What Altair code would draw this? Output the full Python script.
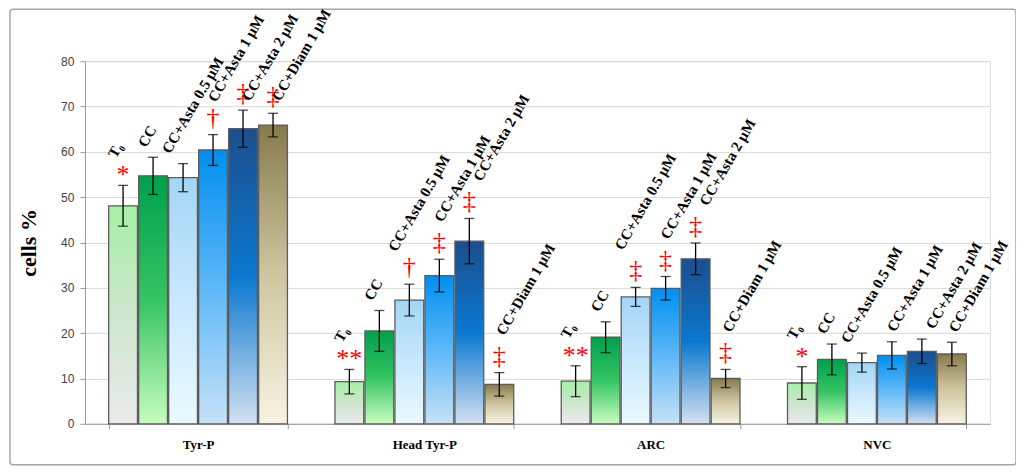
import altair as alt
import pandas as pd

groups = ["Tyr-P", "Head Tyr-P", "ARC", "NVC"]
treatments = ["T₀", "CC", "CC+Asta 0.5 μM", "CC+Asta 1 μM", "CC+Asta 2 μM", "CC+Diam 1 μM"]

tyrp_mean = [48.1, 54.7, 54.3, 60.4, 65.1, 65.9]
tyrp_err = [4.5, 4.1, 3.1, 3.4, 4.1, 2.6]
tyrp_sig = ["*", "", "", "†", "‡", "‡"]

head_mean = [9.3, 20.5, 27.3, 32.7, 40.3, 8.7]
head_err = [2.7, 4.5, 3.5, 3.6, 5.0, 2.6]
head_sig = ["**", "", "†", "‡", "‡", "‡"]

arc_mean = [9.4, 19.1, 28.0, 29.9, 36.4, 10.0]
arc_err = [3.4, 3.4, 2.1, 2.6, 3.5, 2.0]
arc_sig = ["**", "", "‡", "‡", "‡", "‡"]

nvc_mean = [9.0, 14.2, 13.5, 15.1, 16.0, 15.4]
nvc_err = [3.6, 3.4, 2.1, 3.0, 2.7, 2.6]
nvc_sig = ["*", "", "", "", "", ""]

means = [tyrp_mean, head_mean, arc_mean, nvc_mean]
errs = [tyrp_err, head_err, arc_err, nvc_err]
sigs = [tyrp_sig, head_sig, arc_sig, nvc_sig]

# label placement style: gap above the error bar (axis units) by mark,
# horizontal nudge (px) by treatment
gap = {"": 2.0, "*": 5.8, "**": 5.8, "†": 7.0, "‡": 8.0}
nudge = {"T₀": -7, "CC": -7, "CC+Asta 0.5 μM": -13, "CC+Asta 1 μM": 3,
         "CC+Asta 2 μM": 12, "CC+Diam 1 μM": 5}
CLAMP = 71.0

rows = []
for g, m, e, s in zip(groups, means, errs, sigs):
    for t, mv, ev, sv in zip(treatments, m, e, s):
        hi = mv + ev
        ly = hi + gap[sv]
        shifted = ly > CLAMP
        rows.append(dict(group=g, treatment=t, mean=mv, lo=mv - ev, hi=hi,
                         sig=sv, label_y=min(ly, CLAMP),
                         sx=7 if shifted else nudge[t]))
df = pd.DataFrame(rows)

grad_stops = {
    "T₀": ["#a6f0a6", "#cde6cd", "#ebebeb"],
    "CC": ["#00a04c", "#35c463", "#c8fdc0"],
    "CC+Asta 0.5 μM": ["#a3d6f5", "#c8e8fd", "#eafaff"],
    "CC+Asta 1 μM": ["#008ff0", "#5db8f8", "#c6e2f7"],
    "CC+Asta 2 μM": ["#1c4e8c", "#0a78d0", "#d3e1f1"],
    "CC+Diam 1 μM": ["#877a4e", "#cfc6a0", "#f6f3e2"],
}

W, H = 906, 363

x_enc = alt.X("group:N", sort=groups, title=None,
              scale=alt.Scale(domain=groups, paddingInner=0.21, paddingOuter=0.105),
              axis=alt.Axis(labelAngle=0, labelFont="Liberation Serif", labelFontWeight="bold",
                            labelFontSize=13, labelColor="#000000", labelPadding=10,
                            tickBand="extent", tickSize=5, tickColor="#9a9a9a",
                            domainColor="#9a9a9a", grid=False))
xo_enc = alt.XOffset("treatment:N", sort=treatments,
                     scale=alt.Scale(domain=treatments, paddingInner=0.04, paddingOuter=0.0))
y_scale = alt.Scale(domain=[0, 80])

base = alt.Chart(df)

frame = alt.Chart(pd.DataFrame({"a": [0]})).mark_rect(
    fill="transparent", stroke="#a6a6a6", strokeWidth=1.5, cornerRadius=3
).encode(x=alt.value(-75), x2=alt.value(W + 26), y=alt.value(-52), y2=alt.value(H + 41))

bar_layers = []
for t in treatments:
    c = grad_stops[t]
    grad = alt.Gradient(gradient="linear", x1=0, x2=0, y1=0, y2=1,
                        stops=[alt.GradientStop(color=c[0], offset=0),
                               alt.GradientStop(color=c[1], offset=0.5),
                               alt.GradientStop(color=c[2], offset=1)])
    y_axis = alt.Axis(values=list(range(0, 81, 10)), labelFont="Liberation Sans",
                      labelFontSize=12, labelColor="#404040", labelPadding=6,
                      tickSize=5, tickColor="#9a9a9a", domainColor="#9a9a9a",
                      gridColor="#d9d9d9", titleFont="Liberation Serif",
                      titleFontWeight="bold", titleFontSize=22, titleColor="#000000",
                      titlePadding=20)
    bar_layers.append(
        base.transform_filter(alt.datum.treatment == t).mark_bar(
            fill=grad, stroke="#5c5c5c", strokeWidth=1.3
        ).encode(x=x_enc, xOffset=xo_enc,
                 y=alt.Y("mean:Q", scale=y_scale, title="cells %", axis=y_axis))
    )

err_rule = base.mark_rule(color="#000000", strokeWidth=1.3).encode(
    x=x_enc, xOffset=xo_enc, y=alt.Y("lo:Q", scale=y_scale), y2="hi:Q")
cap_hi = base.mark_tick(color="#000000", size=10, thickness=1.3).encode(
    x=x_enc, xOffset=xo_enc, y=alt.Y("hi:Q", scale=y_scale))
cap_lo = base.mark_tick(color="#000000", size=10, thickness=1.3).encode(
    x=x_enc, xOffset=xo_enc, y=alt.Y("lo:Q", scale=y_scale))

sig_star = base.transform_filter(alt.FieldOneOfPredicate(field="sig", oneOf=["*", "**"])).mark_text(
    color="#ff0000", font="Liberation Serif", fontSize=26, baseline="middle", dy=-10
).encode(x=x_enc, xOffset=xo_enc, y=alt.Y("hi:Q", scale=y_scale), text="sig:N")
sig_dag = base.transform_filter(alt.FieldOneOfPredicate(field="sig", oneOf=["†", "‡"])).mark_text(
    color="#ff0000", font="Liberation Serif", fontSize=26, baseline="middle", dy=-17
).encode(x=x_enc, xOffset=xo_enc, y=alt.Y("hi:Q", scale=y_scale), text="sig:N")

lbl_kw = dict(angle=300, align="left", baseline="alphabetic", font="Liberation Serif",
              fontWeight="bold", fontSize=15, color="#000000")
label_layers = []
for sx in sorted(df["sx"].unique()):
    sx = int(sx)
    label_layers.append(
        base.transform_filter(alt.datum.sx == sx).mark_text(
            dx=0.5 * sx, dy=0.866 * sx, **lbl_kw
        ).encode(x=x_enc, xOffset=xo_enc, y=alt.Y("label_y:Q", scale=y_scale),
                 text="treatment:N")
    )

chart = alt.layer(frame, *bar_layers, err_rule, cap_hi, cap_lo, sig_star, sig_dag,
                  *label_layers).properties(
    width=W, height=H,
    autosize=alt.AutoSizeParams(type="none"),
    padding={"left": 77, "top": 53, "right": 26, "bottom": 44},
).configure_view(stroke=None).configure(background="#ffffff")

chart.save("out.html", embed_options={"renderer": "svg", "actions": False})
